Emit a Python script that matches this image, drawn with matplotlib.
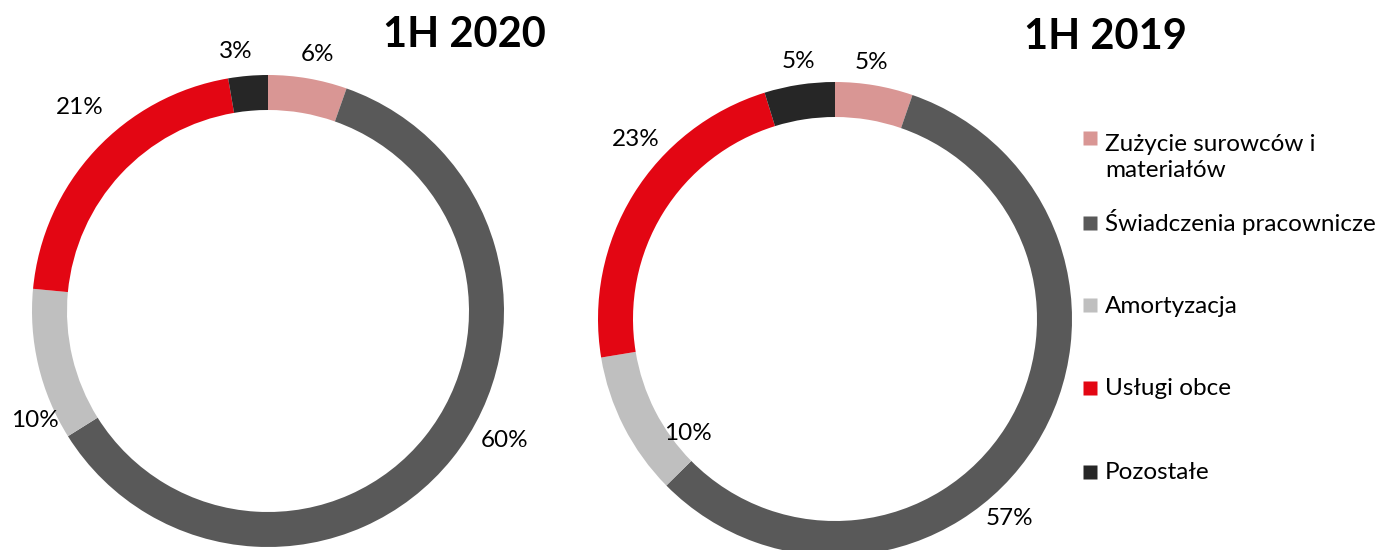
import numpy as np
import matplotlib.pyplot as plt

plt.rcParams['font.family'] = ['Lato', 'DejaVu Sans']

categories = ["Zużycie surowców i\nmateriałów", "Świadczenia pracownicze",
              "Amortyzacja", "Usługi obce", "Pozostałe"]
colors = ["#D99694", "#595959", "#BFBFBF", "#E30613", "#262626"]

values_2020 = [5.4, 60.7, 10.4, 20.8, 2.7]
labels_2020 = ["6%", "60%", "10%", "21%", "3%"]
values_2019 = [5.3, 57.3, 9.8, 22.8, 4.8]
labels_2019 = ["5%", "57%", "10%", "23%", "5%"]

# label placement: angle clockwise from top (deg), distance as fraction of radius
lab_pos_2020 = [(11, 1.106), (118.6, 1.144), (244.9, 1.09), (317.3, 1.175), (353, 1.106)]
lab_pos_2019 = [(8, 1.094), (138.8, 1.12), (232.2, 0.785), (312, 1.13), (352, 1.097)]

W, H = 1381, 550
fig = plt.figure(figsize=(W / 100, H / 100), dpi=100)
ax = fig.add_axes([0, 0, 1, 1])


def donut(vals, labs, pos, cx, cy, r, title, tx, ty):
    ax.pie(vals, colors=colors, startangle=90, counterclock=False,
           radius=r, center=(cx, cy),
           wedgeprops=dict(width=35, edgecolor='none'))
    for lab, (ang, d) in zip(labs, pos):
        a = np.deg2rad(ang)
        ax.text(cx + d * r * np.sin(a), cy + d * r * np.cos(a), lab,
                ha='center', va='center', fontsize=17.5, color='black')
    ax.text(tx, ty, title, ha='center', va='baseline',
            fontsize=30, fontweight='bold', color='black')


donut(values_2020, labels_2020, lab_pos_2020, 268, H - 311, 236, "1H 2020", 464, H - 47)
donut(values_2019, labels_2019, lab_pos_2019, 835, H - 319, 237, "1H 2019", 1105, H - 49)

# legend drawn by hand to keep Excel-like spacing
# (baseline of last text line, centre of the colour key)
leg_base = [177, 231, 313, 395, 479]
leg_key = [138, 223, 305, 388, 472]
for cat, col, yb, yk in zip(categories, colors, leg_base, leg_key):
    ax.plot(1090, H - yk, marker='s', ms=10.5, color=col, mec='none')
    ax.text(1105, H - yb, cat, ha='left', va='baseline', fontsize=17.5,
            linespacing=1.3, color='black')

ax.set_xlim(0, W)
ax.set_ylim(0, H)
ax.set_aspect('auto')
ax.axis('off')

fig.savefig("out.png", dpi=100)
